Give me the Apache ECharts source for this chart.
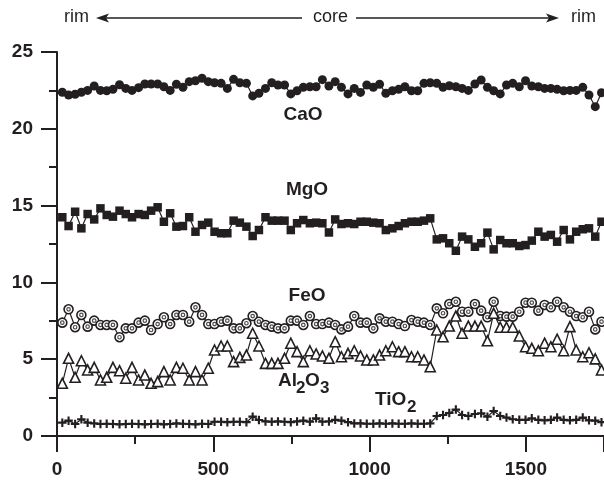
<!DOCTYPE html>
<html>
<head>
<meta charset="utf-8">
<script src="https://cdn.jsdelivr.net/npm/echarts@6/dist/echarts.min.js"></script>
<style>
html,body{margin:0;padding:0;background:#fff;}
#chart{width:604px;height:484px;}
</style>
</head>
<body>
<div id="chart"></div>
<script>
// Distance along the traverse (same analysis spots for every oxide)
const distance = [17,37,58,78,98,119,139,159,179,200,220,240,261,281,301,322,342,362,382,403,
  423,443,464,484,504,525,545,565,585,606,626,646,667,687,707,728,748,768,788,809,
  829,849,870,890,910,931,951,971,991,1012,1032,1052,1073,1093,1113,1134,1154,1174,1194,1215,
  1235,1255,1276,1296,1316,1337,1357,1377,1397,1418,1438,1458,1479,1499,1519,1540,1560,1580,1600,1621,
  1641,1661,1682,1702,1722,1742];

const CaO = [22.38,22.2,22.25,22.38,22.5,22.79,22.5,22.48,22.57,22.87,
  22.63,22.5,22.68,22.92,22.92,22.92,22.74,22.5,22.9,22.7,
  23.07,23.13,23.29,23.07,23.0,22.96,22.63,23.22,23.0,22.96,
  22.14,22.31,22.63,23.0,22.85,22.85,22.27,22.48,22.7,22.74,
  22.74,23.2,
  22.79,23.07,22.7,22.27,22.63,22.37,22.85,22.7,22.9,22.31,
  22.48,22.57,22.74,22.48,22.48,22.96,23.0,22.96,22.7,22.8,
  22.74,22.63,22.5,22.92,23.18,22.7,22.48,22.27,22.85,22.96,
  22.74,23.13,22.79,22.74,22.63,22.63,22.57,22.48,22.5,22.5,
  22.7,22.2,21.44,22.35];

const MgO = [14.24,13.67,14.6,13.52,14.45,14.1,14.82,14.39,14.28,14.67,
  14.45,14.24,14.45,14.39,14.67,14.89,13.95,14.5,13.63,13.67,
  14.24,13.3,13.74,13.89,13.3,13.2,13.2,14.02,13.89,13.63,
  13.02,13.41,14.24,14.02,14.02,14.02,13.41,13.85,14.06,13.85,
  13.89,13.85,13.25,
  14.1,13.8,13.85,13.8,13.95,13.95,13.89,13.85,13.41,13.52,13.67,13.85,13.95,13.95,14.02,14.17,
  12.8,12.87,12.55,12.06,12.98,12.8,12.32,12.55,13.24,12.15,
  12.76,12.55,12.55,12.37,12.43,12.72,13.3,12.98,13.09,12.65,
  13.41,12.8,13.3,13.46,13.52,12.98,13.95];

const FeO = [7.38,8.25,7.08,7.88,7.12,7.51,7.23,7.23,7.23,6.43,
  7.01,7.01,7.38,7.51,6.9,7.29,7.73,7.29,7.88,7.88,
  7.44,8.38,7.88,7.29,7.29,7.44,7.51,7.01,7.01,7.34,
  7.81,7.44,7.23,7.12,7.01,7.01,7.51,7.51,7.23,7.81,
  7.29,7.29,7.38,
  7.23,6.94,7.12,7.81,7.38,7.38,7.01,7.66,7.44,7.44,7.29,7.16,7.55,7.44,7.38,7.23,
  8.31,7.99,8.59,8.74,8.09,8.09,8.59,8.16,7.73,8.74,
  7.81,7.77,7.77,8.09,8.68,8.68,8.16,8.53,8.38,8.74,
  8.38,8.09,7.81,7.73,8.09,6.94,7.44];

const Al2O3 = [3.43,5.06,3.82,4.9,4.3,4.47,3.65,3.82,4.47,4.25,
  3.76,4.47,3.65,3.97,3.43,3.54,4.19,3.65,4.47,4.41,
  3.65,4.19,3.65,4.41,5.6,5.86,5.86,4.84,5.12,5.27,
  6.69,5.86,4.73,4.73,4.73,5.06,6.04,5.49,4.84,5.55,
  5.34,5.21,5.06,
  6.14,5.16,5.38,5.55,5.21,4.95,4.95,5.27,5.55,5.81,5.49,5.49,5.16,5.16,4.95,4.51,
  6.9,6.46,7.16,7.81,6.69,7.16,7.16,7.16,6.2,7.99,
  7.08,7.08,7.08,6.51,5.81,5.71,5.55,6.04,5.81,6.3,
  5.55,7.12,5.6,5.16,5.42,5.02,4.3];

const TiO2 = [0.87,1.0,0.78,1.09,0.87,
  0.82,0.78,0.8,0.78,0.76,0.78,0.8,0.78,0.76,0.78,0.8,0.76,0.78,0.82,0.8,0.78,0.76,0.8,0.78,
  0.93,0.93,0.9,0.93,0.93,0.9,
  1.26,1.04,
  0.95,0.93,0.95,0.93,0.9,0.95,1.0,0.93,1.15,0.93,0.95,
  1.05,1.0,0.9,0.82,0.82,0.8,0.8,0.82,0.8,0.82,0.8,0.8,0.82,0.8,0.8,0.82,
  1.3,1.37,1.5,1.72,1.37,1.3,1.43,1.48,1.26,1.63,1.3,1.2,1.09,1.05,
  1.05,1.15,1.05,1.02,1.05,1.2,1.05,1.02,1.05,1.2,1.02,1.0,0.9];

const xTicks = {min: 0, max: 1750, interval: 500};
const yTicks = {min: 0, max: 25, interval: 5};

const INK = '#231f20';
const FONT = '"Liberation Sans", Arial, Helvetica, sans-serif';

function pairs(vals){ return distance.map((d,i)=>[d, vals[i]]); }

function lineSeries(name, vals, symbol, size, filled, extra){
  return Object.assign({
    name: name,
    type: 'line',
    data: pairs(vals),
    symbol: symbol,
    symbolSize: size,
    showAllSymbol: true,
    lineStyle: {color: INK, width: 1.2},
    itemStyle: filled ? {color: INK, borderWidth: 0} : {color: '#fff', borderColor: INK, borderWidth: 1.6},
    emphasis: {disabled: true},
    animation: false,
    silent: true,
    z: 2
  }, extra || {});
}

const chart = echarts.init(document.getElementById('chart'), null, {renderer: 'canvas'});

const labelFont = {fontFamily: FONT, fontWeight: 'bold', fontSize: 19, color: INK};

chart.setOption({
  backgroundColor: '#fff',
  animation: false,
  grid: {left: 57, top: 52, width: 547, height: 384, containLabel: false},
  xAxis: [{
    type: 'value', min: xTicks.min, max: xTicks.max, interval: xTicks.interval,
    position: 'bottom',
    axisLine: {show: true, onZero: false, lineStyle: {color: INK, width: 2}},
    axisTick: {show: true, inside: false, length: 16, lineStyle: {color: INK, width: 2}},
    minorTick: {show: true, splitNumber: 2, length: 8, lineStyle: {color: INK, width: 2}},
    axisLabel: Object.assign({margin: 24, showMaxLabel: false, formatter: v => String(v)}, labelFont),
    splitLine: {show: false}
  },{
    type: 'value', min: xTicks.min, max: xTicks.max, position: 'top',
    axisLine: {show: true, lineStyle: {color: INK, width: 2}},
    axisTick: {show: false}, axisLabel: {show: false}, splitLine: {show: false}
  }],
  yAxis: {
    type: 'value', min: yTicks.min, max: yTicks.max, interval: yTicks.interval,
    axisLine: {show: true, onZero: false, lineStyle: {color: INK, width: 2}},
    axisTick: {show: true, inside: false, length: 16, lineStyle: {color: INK, width: 2}},
    minorTick: {show: true, splitNumber: 2, length: 8, lineStyle: {color: INK, width: 2}},
    axisLabel: Object.assign({margin: 24, formatter: v => String(v)}, labelFont),
    splitLine: {show: false}
  },
  series: [
    lineSeries('CaO', CaO, 'circle', 9, true),
    lineSeries('MgO', MgO, 'rect', 8.5, true),
    lineSeries('FeO', FeO, 'circle', 9, false),
    {
      name: 'FeO-inner', type: 'scatter', data: pairs(FeO), symbol: 'circle', symbolSize: 3.5,
      itemStyle: {color: '#fff', borderColor: INK, borderWidth: 1.2},
      emphasis: {disabled: true}, silent: true, animation: false, z: 3
    },
    lineSeries('Al2O3', Al2O3, 'triangle', 10, false, {z: 4}),
    lineSeries('TiO2', TiO2, 'path://M3,0H5V3H8V5H5V8H3V5H0V3H3Z', 8.5, true, {z: 5})
  ],
  graphic: [
    // top annotation: rim <--- core ---> rim
    {type: 'text', left: 64, top: 8, style: {text: 'rim', font: '18px ' + FONT, fill: INK}},
    {type: 'line', shape: {x1: 104, y1: 18, x2: 302, y2: 18}, style: {stroke: INK, lineWidth: 1.5}},
    {type: 'polygon', shape: {points: [[96,18],[109,13.5],[106,18],[109,22.5]]}, style: {fill: INK}},
    {type: 'text', left: 313, top: 8, style: {text: 'core', font: '18px ' + FONT, fill: INK}},
    {type: 'line', shape: {x1: 356, y1: 18, x2: 551, y2: 18}, style: {stroke: INK, lineWidth: 1.5}},
    {type: 'polygon', shape: {points: [[559,18],[546,13.5],[549,18],[546,22.5]]}, style: {fill: INK}},
    {type: 'text', left: 571, top: 8, style: {text: 'rim', font: '18px ' + FONT, fill: INK}},
    // series labels
    {type: 'text', x: 303, y: 115, style: {text: 'CaO', font: 'bold 19px ' + FONT, fill: INK, textAlign: 'center', textVerticalAlign: 'middle'}},
    {type: 'text', x: 307, y: 190, style: {text: 'MgO', font: 'bold 19px ' + FONT, fill: INK, textAlign: 'center', textVerticalAlign: 'middle'}},
    {type: 'text', x: 307, y: 296, style: {text: 'FeO', font: 'bold 19px ' + FONT, fill: INK, textAlign: 'center', textVerticalAlign: 'middle'}},
    {type: 'text', x: 278, y: 381, style: {text: 'Al', font: 'bold 19px ' + FONT, fill: INK, textAlign: 'left', textVerticalAlign: 'middle'}},
    {type: 'text', x: 296, y: 388, style: {text: '2', font: 'bold 17px ' + FONT, fill: INK, textAlign: 'left', textVerticalAlign: 'middle'}},
    {type: 'text', x: 305, y: 381, style: {text: 'O', font: 'bold 19px ' + FONT, fill: INK, textAlign: 'left', textVerticalAlign: 'middle'}},
    {type: 'text', x: 320, y: 388, style: {text: '3', font: 'bold 17px ' + FONT, fill: INK, textAlign: 'left', textVerticalAlign: 'middle'}},
    {type: 'text', x: 375, y: 400, style: {text: 'TiO', font: 'bold 19px ' + FONT, fill: INK, textAlign: 'left', textVerticalAlign: 'middle'}},
    {type: 'text', x: 407, y: 407, style: {text: '2', font: 'bold 17px ' + FONT, fill: INK, textAlign: 'left', textVerticalAlign: 'middle'}}
  ]
});
</script>
</body>
</html>
